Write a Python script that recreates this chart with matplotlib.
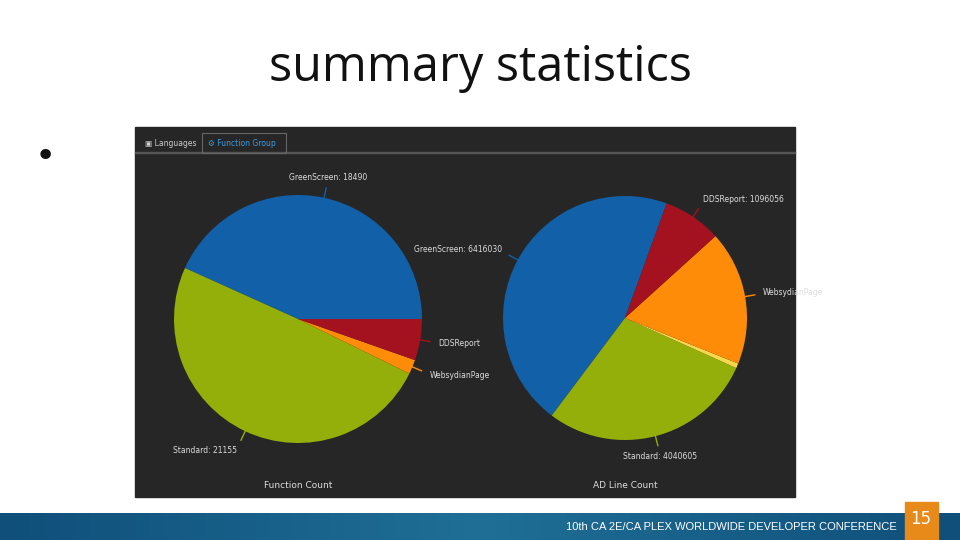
import numpy as np
import matplotlib
matplotlib.use("Agg")
import matplotlib.pyplot as plt
from matplotlib.patches import Rectangle

fc_labels = ["GreenScreen", "Standard", "WebsydianPage", "DDSReport"]
fc_values = [18490, 21155, 800, 2300]
fc_text = ["GreenScreen: 18490", "Standard: 21155", "WebsydianPage", "DDSReport"]

ad_labels = ["GreenScreen", "Standard", "Other", "WebsydianPage", "DDSReport"]
ad_values = [6416030, 4040605, 90000, 2520000, 1096056]
ad_text = ["GreenScreen: 6416030", "Standard: 4040605", "", "WebsydianPage", "DDSReport: 1096056"]

colors = {"GreenScreen": "#1160a8", "Standard": "#94ae0a", "WebsydianPage": "#ff8c08",
          "DDSReport": "#a4111f", "Other": "#f7d84a"}

W, H = 960, 540
fig = plt.figure(figsize=(W/100, H/100), dpi=100)
fig.patch.set_facecolor("white")
bg = fig.add_axes([0, 0, 1, 1]); bg.axis("off")

bg.text(480, 68, "summary statistics", ha="center", va="center", fontsize=35, family="Open Sans", color="#111")
bg.text(45, 157, "•", ha="center", va="center", fontsize=26, color="#111")
bg.add_patch(Rectangle((135, 127), 660, 370, color="#262626"))
bg.add_patch(Rectangle((135, 152), 660, 1, color="#555555"))
bg.add_patch(Rectangle((202, 133), 84, 20, fill=False, ec="#666666", lw=0.8))
bg.text(145, 143, "▣ Languages", color="#cccccc", fontsize=5.5, va="center")
bg.text(208, 143, "⚙ Function Group", color="#3d9be0", fontsize=5.5, va="center")
bg.text(298, 486, "Function Count", color="#dddddd", fontsize=6.5, ha="center", va="center")
bg.text(625, 486, "AD Line Count", color="#dddddd", fontsize=6.5, ha="center", va="center")
grad = np.linspace(0, 1, 256).reshape(1, -1)
bg.imshow(grad, extent=(0, W, 540, 513), cmap=matplotlib.colors.LinearSegmentedColormap.from_list("g", ["#0f4f7a", "#1f6f96", "#0f4f7a"]), aspect="auto")
bg.text(897, 527, "10th CA 2E/CA PLEX WORLDWIDE DEVELOPER CONFERENCE", color="white", fontsize=8, ha="right", va="center", family="Liberation Sans")
bg.add_patch(Rectangle((905, 502), 33, 38, color="#e88a1a"))
bg.text(921, 519, "15", color="white", fontsize=12, ha="center", va="center")
bg.set_xlim(0, W); bg.set_ylim(H, 0)

def pie(cx, cy, r, labels, values, texts, start):
    ax = fig.add_axes([(cx-r)/W, 1-(cy+r)/H, 2*r/W, 2*r/H])
    wedges, _ = ax.pie(values, colors=[colors[l] for l in labels], startangle=start,
                       counterclock=True, radius=1.0, wedgeprops=dict(lw=0))
    ax.set_xlim(-1, 1); ax.set_ylim(-1, 1); ax.set_aspect("equal")
    ax.axis("off")
    for w, t, l in zip(wedges, texts, labels):
        if not t:
            continue
        a = np.deg2rad((w.theta1 + w.theta2) / 2)
        x0, y0 = np.cos(a), np.sin(a)
        ax.plot([x0, 1.08*x0], [y0, 1.08*y0], color=colors[l], lw=1, clip_on=False)
        ax.text(1.15*x0, 1.17*y0, t, color="#dddddd", fontsize=5.5,
                ha="center" if abs(x0) < 0.4 else ("left" if x0 > 0 else "right"),
                va="center", clip_on=False)

pie(298, 319, 124, fc_labels, fc_values, fc_text, 0)
pie(625, 318, 122, ad_labels, ad_values, ad_text, 70)

fig.savefig("out.png", dpi=100, facecolor="white")
